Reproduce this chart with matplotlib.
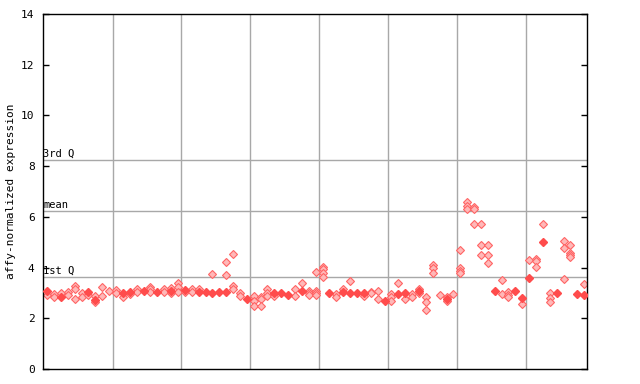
import matplotlib
matplotlib.use("Agg")
import matplotlib.pyplot as plt

# sample index -> values
filled_x = [0, 2, 6, 7, 11, 12, 14, 16, 18, 20, 22, 23, 24, 25, 26, 29, 33, 34, 35, 37,
            41, 43, 44, 45, 46, 49, 51, 52, 54, 58, 65, 68, 69, 70, 72, 74, 77, 78]
filled_y = [3.09, 2.85, 3.02, 2.74, 2.98, 3.05, 3.09, 3.05, 3.07, 3.12, 3.05, 3.05, 2.98, 3.04,
            3.04, 2.77, 2.98, 2.98, 2.93, 3.09, 2.98, 3.02, 2.98, 3.01, 3.01, 2.69, 2.94, 2.98,
            3.06, 2.77, 3.09, 3.08, 2.81, 3.60, 5.02, 3.01, 2.96, 2.93]

hatched = {
    0: [2.92], 1: [2.95, 2.85], 2: [2.98], 3: [3.04, 2.91], 4: [3.27, 3.14, 2.75],
    5: [2.98, 2.83], 6: [2.91], 7: [2.87, 2.66], 8: [3.22, 2.87], 9: [3.07],
    10: [3.10, 2.98], 11: [2.85], 12: [2.95], 13: [3.14, 3.05], 15: [3.25, 3.14, 3.05],
    17: [3.14, 3.05], 18: [3.20, 2.98], 19: [3.38, 3.22, 3.05], 20: [3.04],
    21: [3.14, 3.02], 22: [3.14], 24: [3.73], 26: [4.21, 3.71], 27: [4.54, 3.29, 3.17],
    28: [2.98, 2.86], 30: [2.88, 2.69, 2.48], 31: [2.85, 2.77, 2.48],
    32: [3.14, 2.98, 2.88], 33: [2.88], 36: [3.14, 2.88], 37: [3.38],
    38: [3.06, 2.98, 2.90], 39: [3.81, 3.09, 2.98, 2.90], 40: [4.04, 3.93, 3.80, 3.62],
    42: [2.96, 2.83], 43: [3.14], 44: [3.46], 46: [2.88], 47: [3.05, 2.98],
    48: [3.09, 2.77], 50: [2.94, 2.83, 2.69], 51: [3.38], 52: [2.77], 53: [2.94, 2.83],
    54: [3.14, 2.98], 55: [2.85, 2.64, 2.33], 56: [4.09, 3.98, 3.80], 57: [2.91],
    58: [2.83, 2.67], 59: [2.94], 60: [4.68, 3.97, 3.88, 3.77], 61: [6.57, 6.44, 6.31],
    62: [6.37, 6.30, 5.72], 63: [5.72, 4.88, 4.48], 64: [4.88, 4.48, 4.17],
    66: [3.51, 2.96], 67: [3.04, 2.93, 2.83], 69: [2.55], 70: [4.29],
    71: [4.35, 4.25, 4.01], 72: [5.72], 73: [2.98, 2.80, 2.64],
    75: [5.03, 4.77, 3.54], 76: [4.88, 4.59, 4.48, 4.40], 78: [3.35],
}

group_edges = [9.5, 19.5, 29.5, 39.5, 49.5, 59.5, 69.5]
stat_names = ["1st Q", "mean", "3rd Q"]
stat_values = [3.62, 6.23, 8.23]

plt.rcParams["font.family"] = "DejaVu Sans Mono"

fig = plt.figure(figsize=(6.4, 3.84), dpi=100)
ax = fig.add_axes([43 / 640, 15 / 384, 544 / 640, 355 / 384])

for xe in group_edges:
    ax.axvline(xe, color="#a8a8a8", lw=1, zorder=1)
for name, v in zip(stat_names, stat_values):
    ax.axhline(v, color="#a8a8a8", lw=1, zorder=1)
    ax.text(-0.55, v + 0.05, name, fontsize=7.5, ha="left", va="bottom", color="black")

hx = [k for k, vals in hatched.items() for _ in vals]
hy = [v for vals in hatched.values() for v in vals]
ax.plot(hx, hy, "D", ms=3.8, mfc="#ffb8b8", mec="#ff6464", mew=0.8, ls="none", zorder=2)
ax.plot(filled_x, filled_y, "D", ms=4.2, mfc="#ff4c4c", mec="#ff4c4c", ls="none", zorder=3)

ax.set_xlim(-0.6, 78.4)
ax.set_ylim(0, 14)
ax.set_yticks(range(0, 15, 2))
ax.set_xticks([])
ax.tick_params(axis="y", direction="in", length=4, width=1, labelsize=8,
               right=True, pad=6)
for s in ax.spines.values():
    s.set_color("black")
    s.set_linewidth(1)
ax.set_ylabel("affy-normalized expression", fontsize=8)
ax.yaxis.set_label_coords(-0.049, 0.5)

fig.savefig("out.png", dpi=100)
